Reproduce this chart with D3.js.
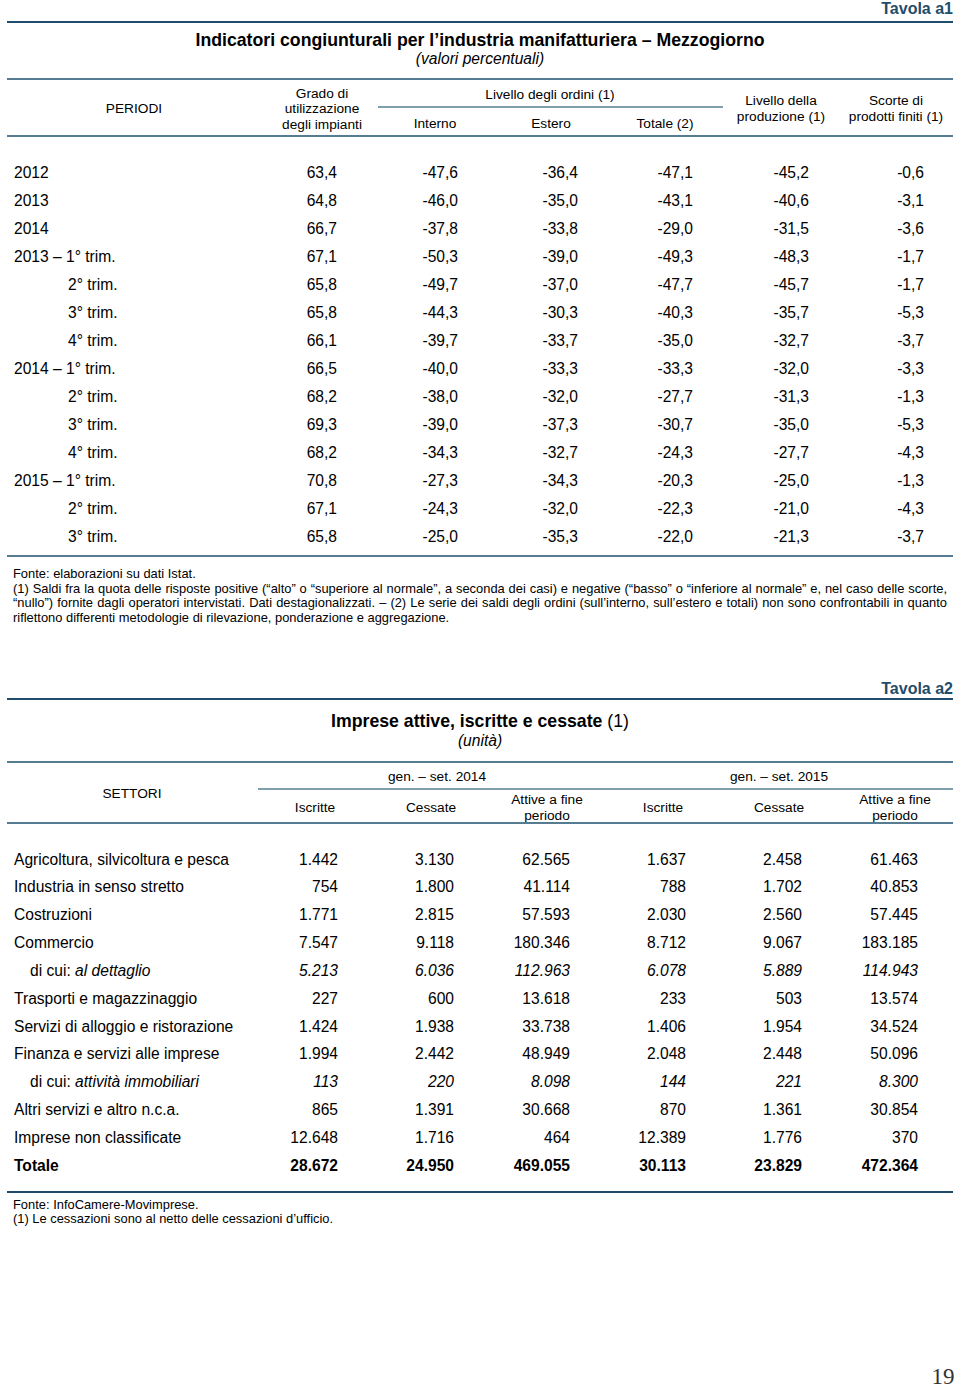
<!DOCTYPE html>
<html>
<head>
<meta charset="utf-8">
<script src="https://cdn.jsdelivr.net/npm/d3@7"></script>
<style>
  body { margin: 0; background: #fff; }
  svg { display: block; font-family: "Liberation Sans", Arial, sans-serif; }
</style>
</head>
<body>
<div id="page"></div>
<script>
var width = 960;
var height = 1390;

// Tavola a1
var periodi = ['2012', '2013', '2014', '2013 – 1° trim.', '2° trim.', '3° trim.', '4° trim.',
  '2014 – 1° trim.', '2° trim.', '3° trim.', '4° trim.', '2015 – 1° trim.', '2° trim.', '3° trim.'];
var indented1 = [false, false, false, false, true, true, true, false, true, true, true, false, true, true];
var grado = [63.4, 64.8, 66.7, 67.1, 65.8, 65.8, 66.1, 66.5, 68.2, 69.3, 68.2, 70.8, 67.1, 65.8];
var interno = [-47.6, -46.0, -37.8, -50.3, -49.7, -44.3, -39.7, -40.0, -38.0, -39.0, -34.3, -27.3, -24.3, -25.0];
var estero = [-36.4, -35.0, -33.8, -39.0, -37.0, -30.3, -33.7, -33.3, -32.0, -37.3, -32.7, -34.3, -32.0, -35.3];
var totale = [-47.1, -43.1, -29.0, -49.3, -47.7, -40.3, -35.0, -33.3, -27.7, -30.7, -24.3, -20.3, -22.3, -22.0];
var produzione = [-45.2, -40.6, -31.5, -48.3, -45.7, -35.7, -32.7, -32.0, -31.3, -35.0, -27.7, -25.0, -21.0, -21.3];
var scorte = [-0.6, -3.1, -3.6, -1.7, -1.7, -5.3, -3.7, -3.3, -1.3, -5.3, -4.3, -1.3, -4.3, -3.7];

// Tavola a2
var settori = ['Agricoltura, silvicoltura e pesca', 'Industria in senso stretto', 'Costruzioni', 'Commercio',
  'al dettaglio', 'Trasporti e magazzinaggio', 'Servizi di alloggio e ristorazione',
  'Finanza e servizi alle imprese', 'attività immobiliari', 'Altri servizi e altro n.c.a.',
  'Imprese non classificate', 'Totale'];
var rowType2 = ['n', 'n', 'n', 'n', 'sub', 'n', 'n', 'n', 'sub', 'n', 'n', 'tot'];
var iscritte14 = [1442, 754, 1771, 7547, 5213, 227, 1424, 1994, 113, 865, 12648, 28672];
var cessate14 = [3130, 1800, 2815, 9118, 6036, 600, 1938, 2442, 220, 1391, 1716, 24950];
var attive14 = [62565, 41114, 57593, 180346, 112963, 13618, 33738, 48949, 8098, 30668, 464, 469055];
var iscritte15 = [1637, 788, 2030, 8712, 6078, 233, 1406, 2048, 144, 870, 12389, 30113];
var cessate15 = [2458, 1702, 2560, 9067, 5889, 503, 1954, 2448, 221, 1361, 1776, 23829];
var attive15 = [61463, 40853, 57445, 183185, 114943, 13574, 34524, 50096, 8300, 30854, 370, 472364];

var it = d3.formatLocale({decimal: ',', thousands: '.', grouping: [3], currency: ['€', ''], minus: '-'});
var fmt1 = it.format(',.1f');
var fmt0 = it.format(',d');

var dark = '#1f4d6b';
var rule = '#557c92';
var fs = 15.6;   // body rows
var hs = 13.7;   // column headers
var fn = 12.9;   // footnotes

var svg = d3.select('#page')
  .append('svg')
  .attr('width', width)
  .attr('height', height);

function hline(y, x1, x2, col, w) {
  svg.append('line')
    .attr('x1', x1).attr('x2', x2)
    .attr('y1', y).attr('y2', y)
    .attr('stroke', col)
    .attr('stroke-width', w);
}

function txt(x, y, s, opts) {
  opts = opts || {};
  return svg.append('text')
    .attr('x', x).attr('y', y)
    .attr('text-anchor', opts.anchor || 'start')
    .attr('font-size', opts.size || fs)
    .attr('font-weight', opts.bold ? 'bold' : null)
    .attr('font-style', opts.italic ? 'italic' : null)
    .attr('fill', opts.fill || '#000')
    .text(s);
}

function justify(sel, target) {
  var node = sel.node();
  var s = sel.text();
  var spaces = (s.match(/ /g) || []).length;
  var natural = node.getComputedTextLength();
  if (spaces > 0) sel.attr('word-spacing', (target - natural) / spaces);
}

// ---------- Tavola a1 ----------
txt(953, 14, 'Tavola a1', {anchor: 'end', bold: true, size: 16, fill: dark});
hline(22, 7, 953, dark, 2);
txt(480, 46, 'Indicatori congiunturali per l’industria manifatturiera – Mezzogiorno', {anchor: 'middle', bold: true, size: 17.7});
txt(480, 64, '(valori percentuali)', {anchor: 'middle', italic: true, size: 15.6});
hline(79, 7, 953, rule, 2);

txt(134, 113, 'PERIODI', {anchor: 'middle', size: hs});
txt(322, 98, 'Grado di', {anchor: 'middle', size: hs});
txt(322, 113, 'utilizzazione', {anchor: 'middle', size: hs});
txt(322, 129, 'degli impianti', {anchor: 'middle', size: hs});
txt(550, 99, 'Livello degli ordini (1)', {anchor: 'middle', size: hs});
hline(107, 378, 723, rule, 1.5);
txt(435, 128, 'Interno', {anchor: 'middle', size: hs});
txt(551, 128, 'Estero', {anchor: 'middle', size: hs});
txt(665, 128, 'Totale (2)', {anchor: 'middle', size: hs});
txt(781, 105, 'Livello della', {anchor: 'middle', size: hs});
txt(781, 121, 'produzione (1)', {anchor: 'middle', size: hs});
txt(896, 105, 'Scorte di', {anchor: 'middle', size: hs});
txt(896, 121, 'prodotti finiti (1)', {anchor: 'middle', size: hs});
hline(136, 7, 953, rule, 2);

var cols1 = [grado, interno, estero, totale, produzione, scorte];
var x1 = d3.scaleOrdinal(d3.range(cols1.length), [337, 458, 578, 693, 809, 924]);
var y1 = d3.scaleLinear().domain([0, periodi.length - 1]).range([172, 536]);

var g1 = svg.append('g').attr('font-size', fs);
var r1 = g1.selectAll('g.row')
  .data(periodi)
  .enter()
  .append('g')
  .attr('class', 'row')
  .attr('transform', function(d, i) { return 'translate(0,' + y1(i) + ')'; });

r1.append('text')
  .attr('x', function(d, i) { return indented1[i] ? 68 : 14; })
  .attr('dy', '0.36em')
  .text(function(d) { return d; });

r1.each(function(d, i) {
  d3.select(this).selectAll('text.v')
    .data(cols1.map(function(c) { return c[i]; }))
    .enter()
    .append('text')
    .attr('class', 'v')
    .attr('x', function(v, j) { return x1(j); })
    .attr('dy', '0.36em')
    .attr('text-anchor', 'end')
    .text(function(v) { return fmt1(v); });
});

hline(556, 7, 953, rule, 2);

txt(13, 578, 'Fonte: elaborazioni su dati Istat.', {size: fn});
justify(txt(13, 593, '(1) Saldi fra la quota delle risposte positive (“alto” o “superiore al normale”, a seconda dei casi) e negative (“basso” o “inferiore al normale” e, nel caso delle scorte,', {size: fn}), 934);
justify(txt(13, 607, '“nullo”) fornite dagli operatori intervistati. Dati destagionalizzati. – (2) Le serie dei saldi degli ordini (sull’interno, sull’estero e totali) non sono confrontabili in quanto', {size: fn}), 934);
txt(13, 622, 'riflettono differenti metodologie di rilevazione, ponderazione e aggregazione.', {size: fn});

// ---------- Tavola a2 ----------
txt(953, 694, 'Tavola a2', {anchor: 'end', bold: true, size: 16, fill: dark});
hline(699, 7, 953, dark, 2);
var t2 = txt(480, 727, 'Imprese attive, iscritte e cessate ', {anchor: 'middle', bold: true, size: 17.7});
t2.append('tspan').attr('font-weight', 'normal').text('(1)');
txt(480, 746, '(unità)', {anchor: 'middle', italic: true, size: 15.6});
hline(762, 7, 953, rule, 2);

txt(132, 798, 'SETTORI', {anchor: 'middle', size: hs});
txt(437, 781, 'gen. – set. 2014', {anchor: 'middle', size: hs});
txt(779, 781, 'gen. – set. 2015', {anchor: 'middle', size: hs});
hline(789, 258, 953, rule, 1.5);
var sub2 = ['Iscritte', 'Cessate', null, 'Iscritte', 'Cessate', null];
var hx2 = [315, 431, 547, 663, 779, 895];
sub2.forEach(function(s, j) {
  if (s) {
    txt(hx2[j], 812, s, {anchor: 'middle', size: hs});
  } else {
    txt(hx2[j], 804, 'Attive a fine', {anchor: 'middle', size: hs});
    txt(hx2[j], 820, 'periodo', {anchor: 'middle', size: hs});
  }
});
hline(823, 7, 953, rule, 2);

var cols2 = [iscritte14, cessate14, attive14, iscritte15, cessate15, attive15];
var x2 = d3.scaleOrdinal(d3.range(cols2.length), [338, 454, 570, 686, 802, 918]);
var y2 = d3.scaleLinear().domain([0, settori.length - 1]).range([859, 1165]);

var g2 = svg.append('g').attr('font-size', fs);
var r2 = g2.selectAll('g.row')
  .data(settori)
  .enter()
  .append('g')
  .attr('class', 'row')
  .attr('transform', function(d, i) { return 'translate(0,' + y2(i) + ')'; })
  .attr('font-weight', function(d, i) { return rowType2[i] === 'tot' ? 'bold' : null; });

r2.each(function(d, i) {
  var row = d3.select(this);
  var lab = row.append('text')
    .attr('dy', '0.36em');
  if (rowType2[i] === 'sub') {
    lab.attr('x', 30);
    lab.append('tspan').text('di cui: ');
    lab.append('tspan').attr('font-style', 'italic').text(d);
  } else {
    lab.attr('x', 14).text(d);
  }
  row.selectAll('text.v')
    .data(cols2.map(function(c) { return c[i]; }))
    .enter()
    .append('text')
    .attr('class', 'v')
    .attr('x', function(v, j) { return x2(j); })
    .attr('dy', '0.36em')
    .attr('text-anchor', 'end')
    .attr('font-style', rowType2[i] === 'sub' ? 'italic' : null)
    .text(function(v) { return fmt0(v); });
});

hline(1192, 7, 953, dark, 2);
txt(13, 1209, 'Fonte: InfoCamere-Movimprese.', {size: fn});
txt(13, 1223, '(1) Le cessazioni sono al netto delle cessazioni d’ufficio.', {size: fn});

// page number
svg.append('text')
  .attr('x', 943).attr('y', 1384)
  .attr('text-anchor', 'middle')
  .attr('font-family', '"Liberation Serif", "Times New Roman", serif')
  .attr('font-size', 23)
  .attr('fill', '#333')
  .text('19');
</script>
</body>
</html>
